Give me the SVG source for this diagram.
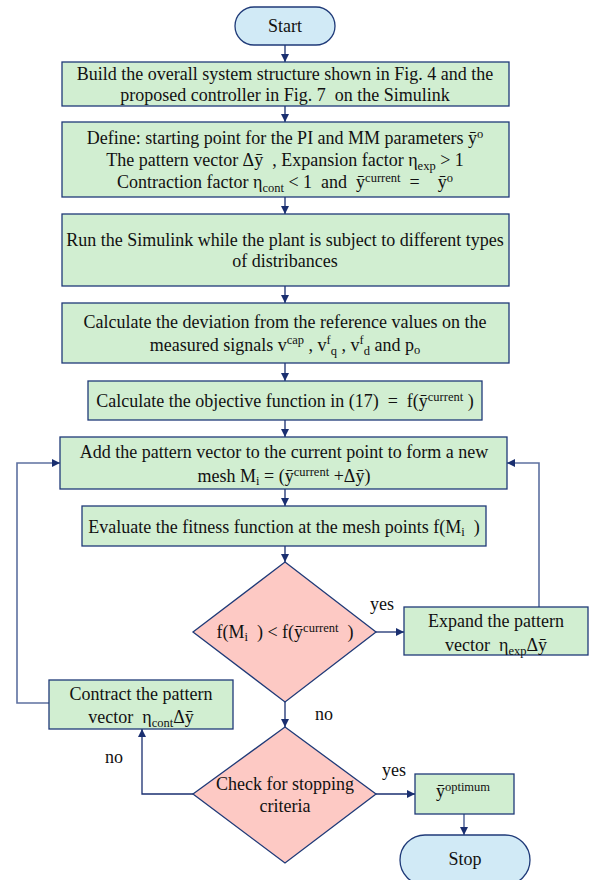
<svg xmlns="http://www.w3.org/2000/svg" width="590" height="880" viewBox="0 0 590 880">
<defs>
<style>
.box{fill:#d1eed1;stroke:#1f3a78;stroke-width:1.3}
.term{fill:#d1eaf6;stroke:#1f3a78;stroke-width:1.3}
.dec{fill:#fdc9c4;stroke:#1f3a78;stroke-width:1.3}
text{font-family:"Liberation Serif","Times New Roman",serif;font-size:18px;fill:#111;text-anchor:middle;white-space:pre}
.lbl{text-anchor:start}
.c{fill:none;stroke:#1a2f70;stroke-width:1.3}
.cl{fill:none;stroke:#5d70a0;stroke-width:1.6}
.s{font-size:12.5px}
</style>
<marker id="ah" viewBox="0 0 10 10" refX="10" refY="5" markerWidth="8" markerHeight="8" markerUnits="userSpaceOnUse" orient="auto">
<path d="M0,0 L10,5 L0,10 z" fill="#1a2f70"/>
</marker>
</defs>
<g id="connectors">
<path class="c" d="M285,45 V62" marker-end="url(#ah)"/>
<path class="c" d="M285,106 V122" marker-end="url(#ah)"/>
<path class="c" d="M285,197 V214" marker-end="url(#ah)"/>
<path class="c" d="M285,286 V303" marker-end="url(#ah)"/>
<path class="c" d="M285,363 V381" marker-end="url(#ah)"/>
<path class="c" d="M285,420 V437" marker-end="url(#ah)"/>
<path class="c" d="M285,489 V506" marker-end="url(#ah)"/>
<path class="c" d="M285,546 V562" marker-end="url(#ah)"/>
<path class="c" d="M376,632 H404" marker-end="url(#ah)"/>
<path class="cl" d="M539,607 V463 H507" marker-end="url(#ah)"/>
<path class="c" d="M285,702 V727" marker-end="url(#ah)"/>
<path class="c" d="M193,794 H142 V729" marker-end="url(#ah)"/>
<path class="cl" d="M49,703 H17 V463 H60" marker-end="url(#ah)"/>
<path class="c" d="M376,794 H415" marker-end="url(#ah)"/>
<path class="cl" d="M464,814 V835" marker-end="url(#ah)"/>
</g>
<g id="start">
<rect class="term" x="235" y="7" width="100" height="38" rx="19"/>
<text x="285" y="32">Start</text>
</g>
<g id="build">
<rect class="box" x="62" y="62" width="447" height="44"/>
<text x="285" y="80">Build the overall system structure shown in Fig. 4 and the</text>
<text x="285" y="101" xml:space="preserve">proposed controller in Fig. 7  on the Simulink</text>
</g>
<g id="define">
<rect class="box" x="62" y="122" width="447" height="75"/>
<text x="285" y="144">Define: starting point for the PI and MM parameters ȳ<tspan class="s" dy="-6">o</tspan></text>
<text x="285" y="166" xml:space="preserve">The pattern vector Δȳ  , Expansion factor η<tspan class="s" dy="4">exp</tspan><tspan dy="-4"> &gt; 1</tspan></text>
<text x="285" y="188" xml:space="preserve">Contraction factor η<tspan class="s" dy="4">cont</tspan><tspan dy="-4"> &lt; 1  and  ȳ</tspan><tspan class="s" dy="-6">current</tspan><tspan dy="6">  =    ȳ</tspan><tspan class="s" dy="-6">o</tspan></text>
</g>
<g id="run">
<rect class="box" x="62" y="214" width="447" height="72"/>
<text x="285" y="246">Run the Simulink while the plant is subject to different types</text>
<text x="285" y="267">of distribances</text>
</g>
<g id="deviation">
<rect class="box" x="62" y="303" width="447" height="60"/>
<text x="285" y="328">Calculate the deviation from the reference values on the</text>
<text x="285" y="351" xml:space="preserve">measured signals v<tspan class="s" dy="-7">cap</tspan><tspan dy="7"> , v</tspan><tspan class="s" dy="-7">f</tspan><tspan class="s" dy="11">q</tspan><tspan dy="-4"> , v</tspan><tspan class="s" dy="-7">f</tspan><tspan class="s" dy="11">d</tspan><tspan dy="-4"> and p</tspan><tspan class="s" dy="3">o</tspan></text>
</g>
<g id="objective">
<rect class="box" x="88" y="381" width="394" height="39"/>
<text x="285" y="407" xml:space="preserve">Calculate the objective function in (17)  =  f(ȳ<tspan class="s" dy="-6">current</tspan><tspan dy="6"> )</tspan></text>
</g>
<g id="mesh">
<rect class="box" x="60" y="437" width="447" height="52"/>
<text x="284" y="458">Add the pattern vector to the current point to form a new</text>
<text x="284" y="482" xml:space="preserve">mesh M<tspan class="s" dy="3">i</tspan><tspan dy="-3"> = (ȳ</tspan><tspan class="s" dy="-6">current</tspan><tspan dy="6"> +Δȳ)</tspan></text>
</g>
<g id="evaluate">
<rect class="box" x="82" y="506" width="404" height="40"/>
<text x="284" y="533" xml:space="preserve">Evaluate the fitness function at the mesh points f(M<tspan class="s" dy="3">i</tspan><tspan dy="-3">  )</tspan></text>
</g>
<g id="decision1">
<polygon class="dec" points="285,562 376,632 285,702 193,632"/>
<text x="285" y="638" xml:space="preserve">f(M<tspan class="s" dy="3">i</tspan><tspan dy="-3">  ) &lt; f(ȳ</tspan><tspan class="s" dy="-6">current</tspan><tspan dy="6">  )</tspan></text>
</g>
<g id="expand">
<rect class="box" x="404" y="607" width="184" height="48"/>
<text x="496" y="627">Expand the pattern</text>
<text x="496" y="651" xml:space="preserve">vector  η<tspan class="s" dy="4">exp</tspan><tspan dy="-4">Δȳ</tspan></text>
</g>
<g id="contract">
<rect class="box" x="49" y="680" width="184" height="49"/>
<text x="141" y="700">Contract the pattern</text>
<text x="141" y="723" xml:space="preserve">vector  η<tspan class="s" dy="4">cont</tspan><tspan dy="-4">Δȳ</tspan></text>
</g>
<g id="decision2">
<polygon class="dec" points="285,727 376,794 285,863 193,794"/>
<text x="285" y="790">Check for stopping</text>
<text x="285" y="812">criteria</text>
</g>
<g id="optimum">
<rect class="box" x="415" y="774" width="99" height="40"/>
<text x="463" y="797">ȳ<tspan class="s" dy="-6">optimum</tspan></text>
</g>
<g id="stop">
<rect class="term" x="400" y="835" width="130" height="50" rx="25"/>
<text x="465" y="865">Stop</text>
</g>
<g id="labels">
<text class="lbl" x="370" y="610">yes</text>
<text class="lbl" x="315" y="720">no</text>
<text class="lbl" x="105" y="763">no</text>
<text class="lbl" x="382" y="776">yes</text>
</g>
</svg>
